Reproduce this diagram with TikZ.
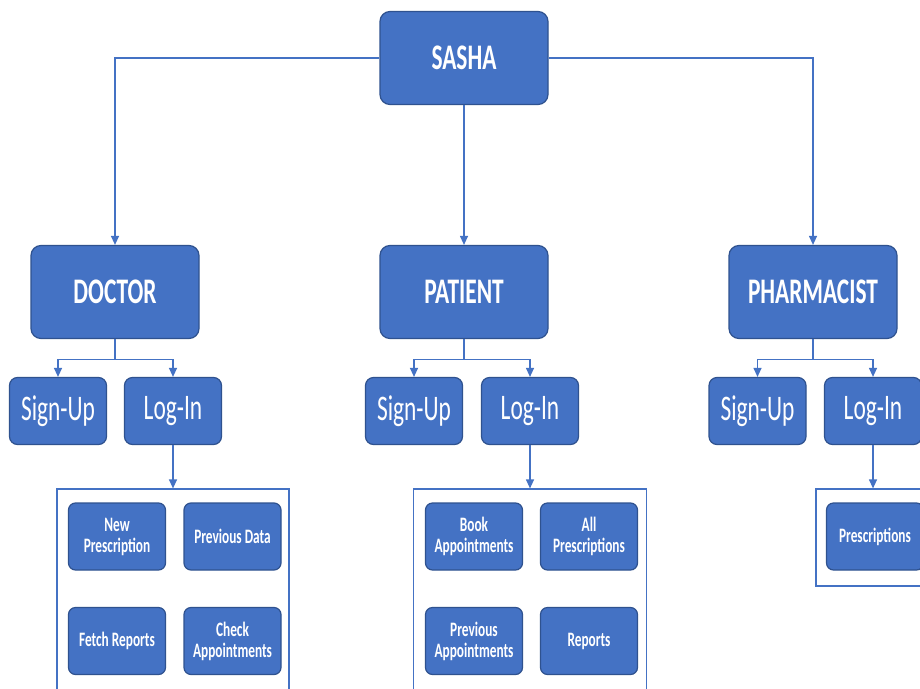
\documentclass[tikz,border=0pt]{standalone}
\usepackage{fontspec}
\setmainfont{Carlito}
\usetikzlibrary{arrows.meta,positioning}
\definecolor{boxblue}{HTML}{4472C4}
\definecolor{edgeblue}{HTML}{2F528F}
\newcommand{\sq}[1]{\scalebox{0.65}[1]{#1}}

\begin{document}
\begin{tikzpicture}[
    x=1pt, y=-1pt,
    topbox/.style={rectangle, draw=edgeblue, fill=boxblue, rounded corners=10pt,
                   line width=1.2pt, text=white, minimum width=168pt, minimum height=93pt,
                   font=\fontsize{36}{40}\selectfont\bfseries},
    authbox/.style={rectangle, draw=edgeblue, fill=boxblue, rounded corners=8pt,
                    line width=1.2pt, text=white, minimum width=97pt, minimum height=67pt,
                    font=\fontsize{36}{40}\selectfont},
    featbox/.style={rectangle, draw=edgeblue, fill=boxblue, rounded corners=7pt,
                    line width=1.2pt, text=white, minimum width=97pt, minimum height=67pt,
                    font=\fontsize{20.5}{21}\selectfont\bfseries, align=center},
    panel/.style={rectangle, draw=boxblue, line width=1.2pt},
    link/.style={draw=boxblue, line width=1.2pt},
    arr/.style={link, -{Triangle[length=9pt,width=8pt]}},
  ]
  \fill[white] (0,0) rectangle (920,688);
  \clip (0,0) rectangle (920,688);

  % top level
  \node[topbox] (sasha) at (464,58) {\sq{SASHA}};
  \node[topbox] (doctor) at (115,292) {\sq{DOCTOR}};
  \node[topbox] (patient) at (464,292) {\sq{PATIENT}};
  \node[topbox] (pharm) at (813,292) {\sq{PHARMACIST}};

  \draw[arr] (sasha.west) -| (doctor.north);
  \draw[arr] (sasha.south) -- (patient.north);
  \draw[arr] (sasha.east) -| (pharm.north);

  % doctor
  \node[authbox] (dsign) at (58,411) {\sq{Sign-Up}};
  \node[authbox] (dlog) at (173,411) {\sq{Log-In}};
  \draw[link] (doctor.south) -- ++(0,20) coordinate (dsplit);
  \draw[arr] (dsplit) -| (dsign.north);
  \draw[arr] (dsplit) -| (dlog.north);
  \node[panel, minimum width=232pt, minimum height=210pt] (dpanel) at (173,594) {};
  \draw[arr] (dlog.south) -- (dpanel.north);
  \node[featbox] (dnew) at (117,536.5) {\sq{New}\\\sq{Prescription}};
  \node[featbox] (dprev) at (232.5,536.5) {\sq{Previous Data}};
  \node[featbox] (dfetch) at (117,641) {\sq{Fetch Reports}};
  \node[featbox] (dcheck) at (232.5,641) {\sq{Check}\\\sq{Appointments}};

  % patient
  \node[authbox] (psign) at (414,411) {\sq{Sign-Up}};
  \node[authbox] (plog) at (530,411) {\sq{Log-In}};
  \draw[link] (patient.south) -- ++(0,20) coordinate (psplit);
  \draw[arr] (psplit) -| (psign.north);
  \draw[arr] (psplit) -| (plog.north);
  \node[panel, minimum width=233pt, minimum height=210pt] (ppanel) at (530,594) {};
  \draw[arr] (plog.south) -- (ppanel.north);
  \node[featbox] (pbook) at (474,536.5) {\sq{Book}\\\sq{Appointments}};
  \node[featbox] (pall) at (589,536.5) {\sq{All}\\\sq{Prescriptions}};
  \node[featbox] (pprev) at (474,641) {\sq{Previous}\\\sq{Appointments}};
  \node[featbox] (prep) at (589,641) {\sq{Reports}};

  % pharmacist
  \node[authbox] (hsign) at (757.5,411) {\sq{Sign-Up}};
  \node[authbox] (hlog) at (873,411) {\sq{Log-In}};
  \draw[link] (pharm.south) -- ++(0,20) coordinate (hsplit);
  \draw[arr] (hsplit) -| (hsign.north);
  \draw[arr] (hsplit) -| (hlog.north);
  \node[panel, minimum width=114pt, minimum height=97pt] (hpanel) at (873,537.5) {};
  \draw[arr] (hlog.south) -- (hpanel.north);
  \node[featbox] (hpres) at (875,536.5) {\sq{Prescriptions}};
\end{tikzpicture}
\end{document}
